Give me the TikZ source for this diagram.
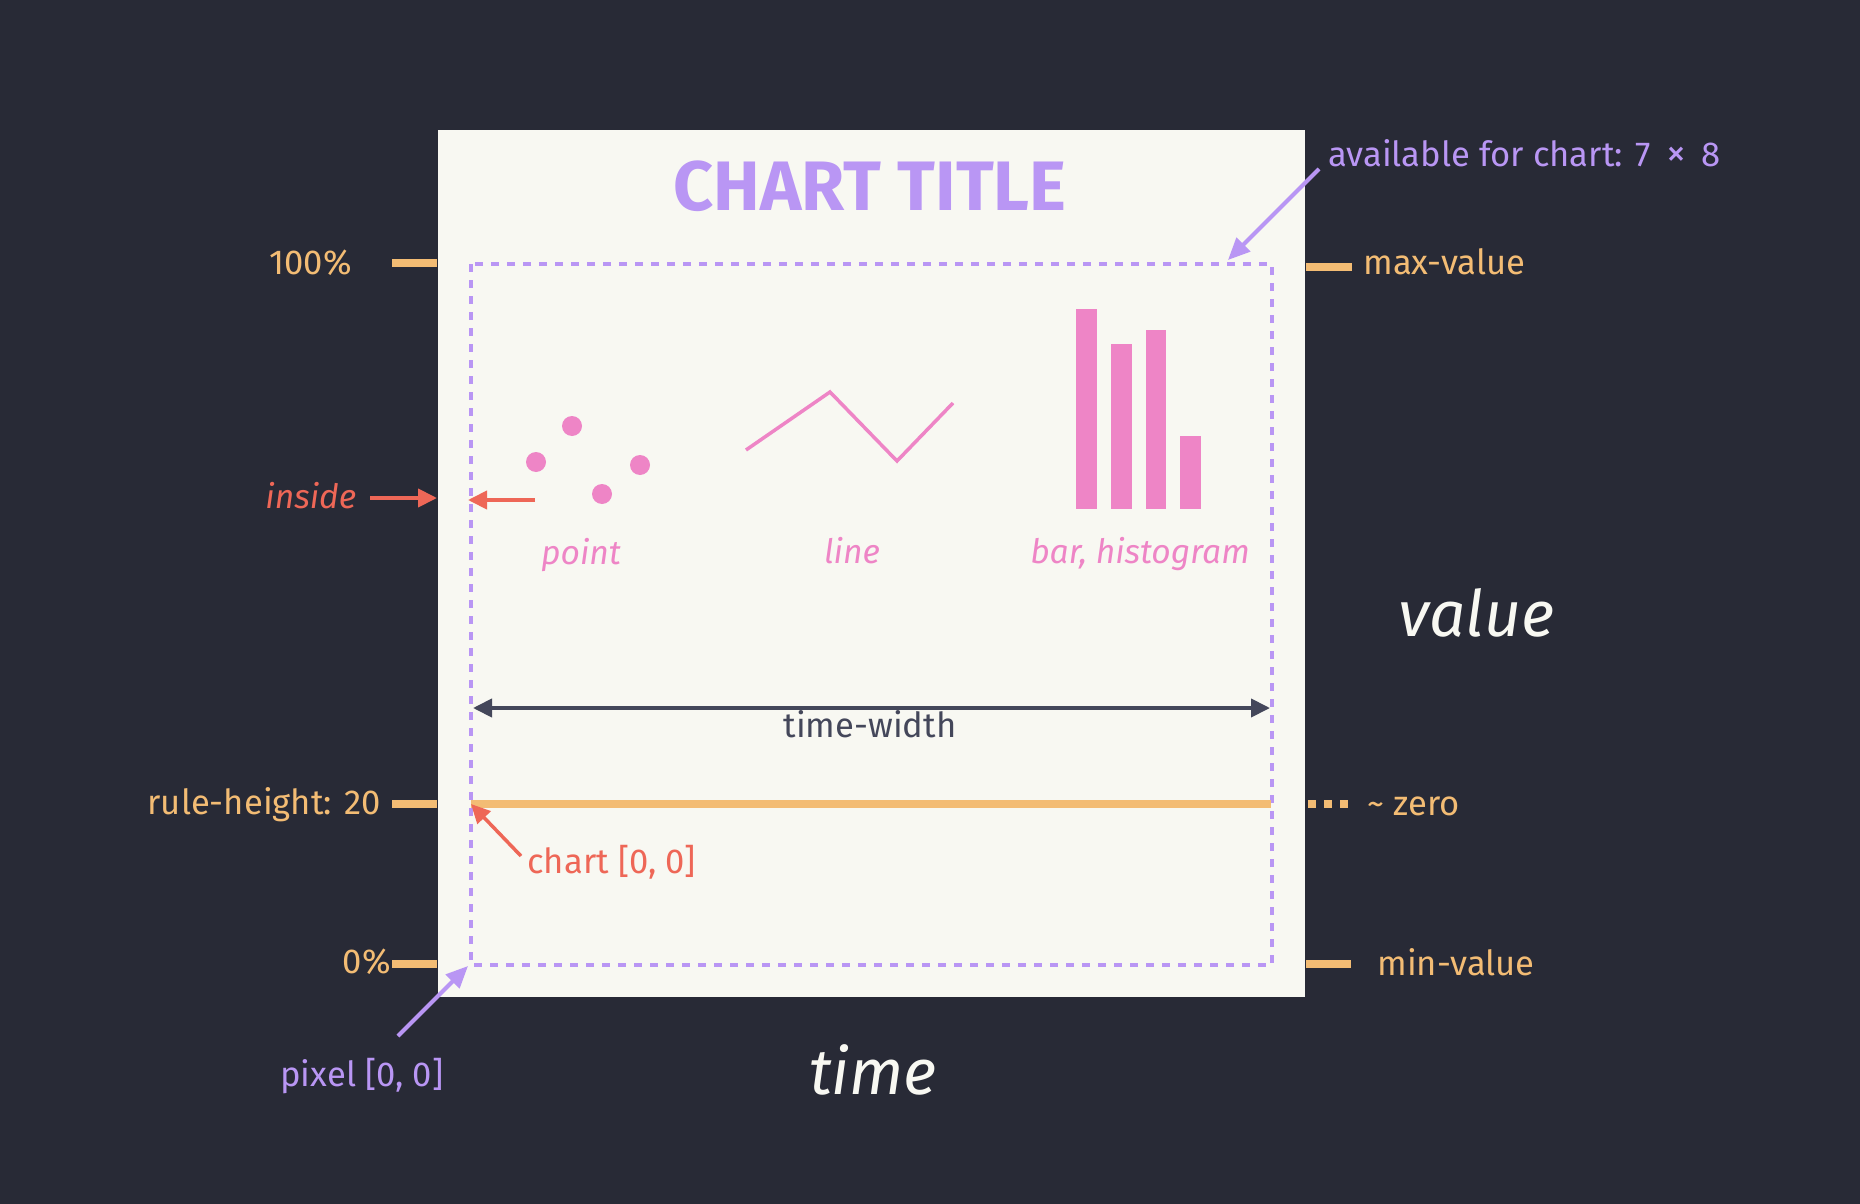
\documentclass[tikz,border=0pt]{standalone}
\usepackage{fontspec}
\setmainfont{Fira Sans}
\usepackage{tikz}
\usetikzlibrary{arrows.meta, positioning}
\definecolor{drbg}{HTML}{282A36}
\definecolor{drfg}{HTML}{F8F8F2}
\definecolor{drline}{HTML}{44475A}
\definecolor{drpurple}{HTML}{B996F4}
\definecolor{drpink}{HTML}{EE85C6}
\definecolor{drorange}{HTML}{F3BC74}
\definecolor{drred}{HTML}{EE6757}
\tikzset{
	note/.style={
		inner sep=0pt,
		font=\fontsize{17.3}{21}\selectfont
	},
	kind/.style={
		inner sep=0pt,
		text=drpink,
		font=\fontsize{16.8}{20}\selectfont\itshape
	},
	axisname/.style={
		inner sep=0pt,
		text=drfg,
		font=\fontsize{32}{38}\selectfont\itshape
	},
	tickmark/.style={draw=drorange, line width=4pt},
	chartarea/.style={draw=drpurple, line width=1.9pt, dash pattern=on 4pt off 4pt},
	redarrow/.style={draw=drred, line width=2pt, -{Triangle[length=9.5pt,width=9pt]}},
	purplearrow/.style={draw=drpurple, line width=2pt, -{Triangle[length=11pt,width=9.5pt]}},
	spanarrow/.style={draw=drline, line width=2pt, {Triangle[length=9.5pt,width=9pt]}-{Triangle[length=9.5pt,width=9pt]}}
}

\begin{document}
\begin{tikzpicture}[x=0.5pt, y=-0.5pt]
	\fill [drbg] (0,0) rectangle (1860,1204);
	\useasboundingbox (0,0) rectangle (1860,1204);

	% Panel and chart area
	\fill [drfg] (438,130) rectangle (1305,997);
	\draw [chartarea] (471,264) rectangle (1272,965);
	\node (title) [inner sep=0pt, text=drpurple, font=\fontsize{35}{40}\selectfont\bfseries, anchor=base] at (870,211) {CHART TITLE};

	% Chart kinds
	\fill [drpink] (572,426) circle (10);
	\fill [drpink] (536,462) circle (10);
	\fill [drpink] (640,465) circle (10);
	\fill [drpink] (602,494) circle (10);
	\draw [drpink, line width=1.75pt] (746,450) -- (830,392) -- (897,461) -- (953,403);
	\fill [drpink] (1076,309) rectangle (1097,509);
	\fill [drpink] (1111,344) rectangle (1132,509);
	\fill [drpink] (1146,330) rectangle (1166,509);
	\fill [drpink] (1180,436) rectangle (1201,509);
	\node (point) [kind, anchor=base] at (581,564) {point};
	\node (line) [kind, anchor=base] at (852,563) {line};
	\node (bar) [kind, anchor=base] at (1140,563) {bar, histogram};

	% Rules on the left
	\draw [tickmark] (392,263) -- (437,263);
	\draw [tickmark] (392,804) -- (437,804);
	\draw [tickmark] (392,964) -- (437,964);
	\node (full) [note, text=drorange, anchor=base east] at (352,274) {100\%};
	\node (ruleh) [note, text=drorange, anchor=base east] at (381,814) {rule-height: 20};
	\node (none) [note, text=drorange, anchor=base east] at (391,973) {0\%};

	% Rules on the right
	\draw [tickmark] (1306,267) -- (1352,267);
	\draw [tickmark, dash pattern=on 4pt off 4pt] (1308,804) -- (1349,804);
	\draw [tickmark] (1306,964) -- (1351,964);
	\node (maxv) [note, text=drorange, anchor=base west] at (1363,274) {max-value};
	\node (zero) [note, text=drorange, anchor=base west] at (1367,815) {\textasciitilde{} zero};
	\node (minv) [note, text=drorange, anchor=base west] at (1377,975) {min-value};

	% Zero rule and span
	\coordinate (rule-l) at (471,804);
	\coordinate (rule-r) at (1271,804);
	\draw [tickmark] (rule-l) -- (rule-r);
	\coordinate (span-l) at (473,708);
	\coordinate (span-r) at (1270,708);
	\draw [spanarrow] (span-l) -- (span-r);
	\node (span) [note, text=drline, anchor=base] at (870,737) {time-width};

	% Pointers
	\node (avail) [note, text=drpurple, anchor=base west] at (1328,167) {available for chart: 7\hspace{0.45em}{\fontsize{20}{21}\selectfont ×}\hspace{0.45em}8};
	\coordinate (avail-from) at (1319,169);
	\coordinate (avail-to) at (1228,260);
	\draw [purplearrow] (avail-from) -- (avail-to);

	\node (inside) [kind, text=drred, anchor=base west] at (265,508) {inside};
	\coordinate (inside-from) at (370,498);
	\coordinate (inside-to) at (437,498);
	\draw [redarrow] (inside-from) -- (inside-to);
	\coordinate (dot-from) at (535,500);
	\coordinate (dot-to) at (468,500);
	\draw [redarrow] (dot-from) -- (dot-to);

	\node (chart00) [note, text=drred, anchor=base west] at (527,873) {chart [0, 0]};
	\coordinate (chart-from) at (521,856);
	\draw [redarrow, line width=1.75pt] (chart-from) -- (rule-l);

	\node (pixel00) [note, text=drpurple, anchor=base west] at (280,1086) {pixel [0, 0]};
	\coordinate (pixel-from) at (398,1036);
	\coordinate (pixel-to) at (468,966);
	\draw [purplearrow] (pixel-from) -- (pixel-to);

	% Axis names
	\node (value) [axisname, anchor=base west] at (1398,636) {value};
	\node (time) [axisname, anchor=base] at (873,1094) {time};
\end{tikzpicture}
\end{document}
